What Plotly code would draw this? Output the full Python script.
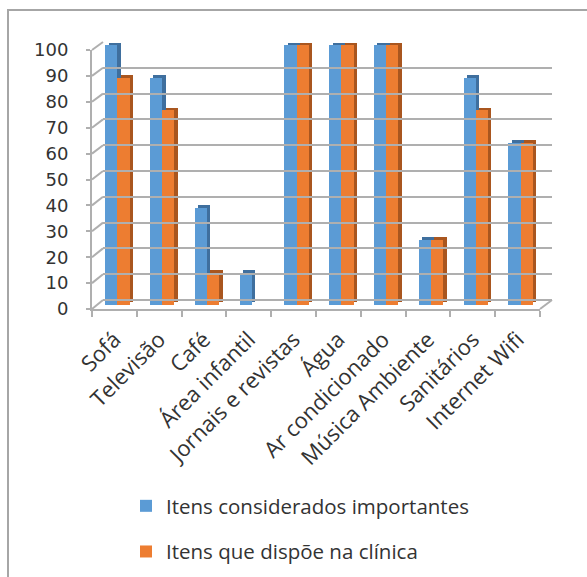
import plotly.graph_objects as go

# Categories and survey values (percent)
categorias = ["Sofá", "Televisão", "Café", "Área infantil", "Jornais e revistas",
              "Água", "Ar condicionado", "Música Ambiente", "Sanitários", "Internet Wifi"]
importantes = [100, 87.5, 37.5, 12.5, 100, 100, 100, 25, 87.5, 62.5]
disponiveis = [87.5, 75, 12.5, 0, 100, 100, 100, 25, 75, 62.5]
y_ticks = list(range(0, 101, 10))

serie_nomes = ["Itens considerados importantes", "Itens que dispõe na clínica"]

AZUL, AZUL_ESC = "#5B9BD5", "#3F6F9E"
LARANJA, LARANJA_ESC = "#ED7D31", "#A9561F"
GRADE = "#AFAFAF"
TEXTO = "#333333"

W, H = 587, 577
# plot area in pixels
L, R, T, B = 92, 552, 42, 309


def px(x):
    return (x - L) / (R - L)


def py(y):
    return (B - y) / (B - T)


# 3D-ish geometry: front face / back wall / bar block domains
front_x = [0, px(540)]
front_y = [0, py(50)]
back_x = [px(103), 1]
back_y = [py(300), 1]
bars_y = [py(305), 1]
bars_range = 100 * (305 - T) / (305 - 45.3)

BAR_W = 0.272
DEPTH_X = 0.076   # side face offset (category units)
DEPTH_Y = 1.0     # top face rise (value units)

fig = go.Figure()

# empty traces so the front axes and back wall subplots are built
fig.add_trace(go.Scatter(x=[], y=[], xaxis="x2", yaxis="y2", showlegend=False, hoverinfo="skip"))
fig.add_trace(go.Scatter(x=[], y=[], xaxis="x", yaxis="y", showlegend=False, hoverinfo="skip"))

for vals, nome, cor, cor_esc, off, grp in [
    (importantes, serie_nomes[0], AZUL, AZUL_ESC, -0.205, "a"),
    (disponiveis, serie_nomes[1], LARANJA, LARANJA_ESC, 0.067, "b"),
]:
    # side/top faces
    fig.add_trace(go.Bar(
        x=categorias, y=vals, base=DEPTH_Y, offset=off + DEPTH_X, width=BAR_W,
        marker=dict(color=cor_esc, line=dict(width=0)),
        xaxis="x", yaxis="y3", showlegend=False, hoverinfo="skip", legendgroup=grp,
    ))
    # front faces
    fig.add_trace(go.Bar(
        x=categorias, y=vals, offset=off, width=BAR_W, name=nome,
        marker=dict(color=cor, line=dict(width=0)),
        xaxis="x", yaxis="y3", legendgroup=grp,
    ))

shapes = []
# side wall depth lines at each gridline level
for v in y_ticks:
    yf = front_y[0] + (front_y[1] - front_y[0]) * v / 100
    yb = back_y[0] + (back_y[1] - back_y[0]) * v / 100
    shapes.append(dict(type="line", xref="paper", yref="paper",
                       x0=0, y0=yf, x1=back_x[0], y1=yb,
                       line=dict(color=GRADE, width=2), layer="below"))
# floor right edge
shapes.append(dict(type="line", xref="paper", yref="paper",
                   x0=front_x[1], y0=0, x1=1, y1=back_y[0],
                   line=dict(color=GRADE, width=2), layer="below"))
# chart area border
shapes.append(dict(type="rect", xref="paper", yref="paper",
                   x0=px(8), y0=py(10), x1=px(620), y1=py(620),
                   line=dict(color="#A6A6A6", width=2), fillcolor="rgba(0,0,0,0)"))

fig.update_layout(
    width=W, height=H,
    margin=dict(l=L, r=W - R, t=T, b=H - B, autoexpand=False),
    paper_bgcolor="white", plot_bgcolor="rgba(0,0,0,0)",
    barmode="overlay",
    bargap=0,
    font=dict(family="Open Sans", size=20, color=TEXTO),
    xaxis=dict(
        domain=front_x, anchor="y", type="category", categoryarray=categorias,
        categoryorder="array",
        tickangle=-45, tickson="boundaries", ticks="outside", ticklen=6,
        tickcolor=GRADE, tickwidth=2, ticklabelstandoff=7, automargin=False,
        showline=True, linecolor=GRADE, linewidth=2, showgrid=False,
        tickfont=dict(family="Open Sans", size=22, color=TEXTO),
        range=[-0.5, len(categorias) - 0.5],
    ),
    yaxis=dict(
        domain=front_y, anchor="x", range=[0, 100], tickvals=y_ticks,
        ticks="outside", ticklen=4, tickcolor=GRADE, tickwidth=2,
        showline=True, linecolor=GRADE, linewidth=2, showgrid=False, zeroline=False,
        showticklabels=True, ticklabelstandoff=14, automargin=False,
        tickfont=dict(family="DejaVu Sans", size=18, color=TEXTO),
    ),
    xaxis2=dict(domain=back_x, anchor="y2", range=[0, 1],
                showticklabels=False, ticks="", showline=False, showgrid=False,
                zeroline=False),
    yaxis2=dict(
        domain=back_y, anchor="x2", range=[0, 100], tickvals=y_ticks,
        showticklabels=False, ticks="", showline=False,
        showgrid=True, gridcolor=GRADE, gridwidth=2,
        zeroline=True, zerolinecolor=GRADE, zerolinewidth=2,
    ),
    yaxis3=dict(domain=bars_y, anchor="x", range=[0, bars_range],
                showticklabels=False, ticks="", showline=False, showgrid=False,
                zeroline=False),
    legend=dict(
        x=px(126), y=py(486), xanchor="left", yanchor="top",
        orientation="v", tracegroupgap=16,
        font=dict(family="Open Sans", size=20.5, color=TEXTO),
        bgcolor="rgba(0,0,0,0)",
    ),
    shapes=shapes,
)

fig.write_html("out.html")
